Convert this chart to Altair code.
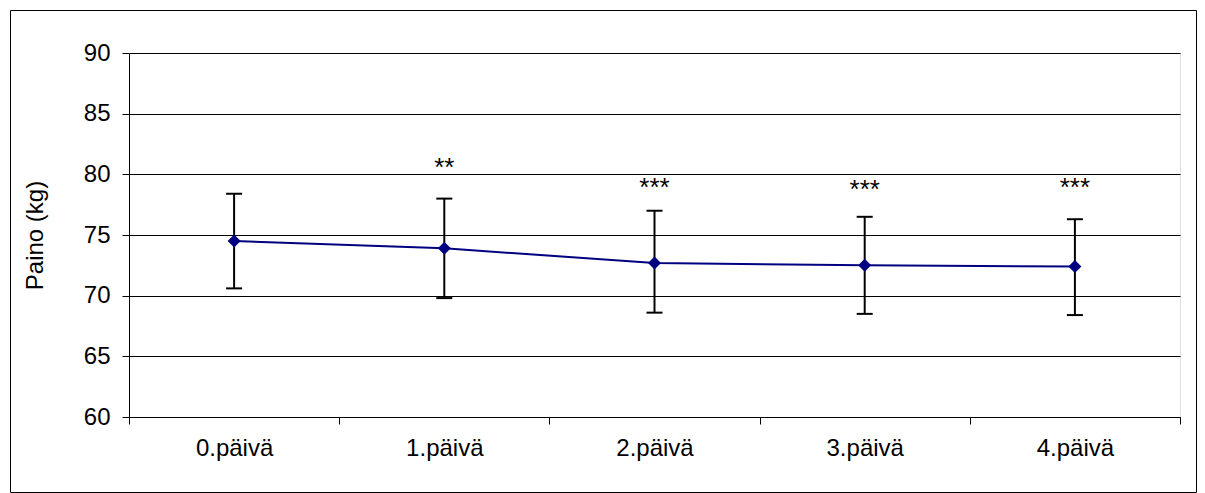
import json
import altair as alt
import pandas as pd

days = ["0.päivä", "1.päivä", "2.päivä", "3.päivä", "4.päivä"]
mean = [74.5, 73.9, 72.7, 72.5, 72.4]
upper = [78.4, 78.0, 77.0, 76.5, 76.3]
lower = [70.6, 69.8, 68.6, 68.5, 68.4]
stars = ["", "**", "***", "***", "***"]
star_y = [None, 80.5, 78.85, 78.7, 78.85]

df = pd.DataFrame({
    "idx": list(range(len(days))),
    "day": days,
    "mean": mean,
    "upper": upper,
    "lower": lower,
    "stars": stars,
    "star_y": star_y,
})

FONT = "Liberation Sans"
FS = 24

tick_vals = [i * 0.5 - 0.5 for i in range(2 * len(days) + 1)]
label_expr = "datum.value % 1 == 0 ? " + json.dumps(days) + "[datum.value] : ''"

x_enc = alt.X(
    "idx:Q",
    scale=alt.Scale(domain=[-0.5, len(days) - 0.5], nice=False, zero=False),
    axis=alt.Axis(
        values=tick_vals,
        labelExpr=label_expr,
        title=None,
        grid=False,
        tickSize=7,
        tickColor="black",
        tickOpacity={"condition": {"test": "datum.value % 1 != 0", "value": 1}, "value": 0},
        domainColor="black",
        labelFont=FONT,
        labelFontSize=FS,
        labelColor="black",
        labelPadding=12,
        labelOverlap=False,
        labelFlush=False,
    ),
)

y_scale = alt.Scale(domain=[60, 90], nice=False, zero=False)
y_axis = alt.Axis(
    values=[60, 65, 70, 75, 80, 85, 90],
    title="Paino (kg)",
    titleFont=FONT,
    titleFontSize=FS,
    titleFontWeight="normal",
    titleColor="black",
    titlePadding=36,
    grid=True,
    gridColor="black",
    gridWidth=1,
    tickSize=7,
    tickColor="black",
    domainColor="black",
    labelFont=FONT,
    labelFontSize=FS,
    labelColor="black",
    labelPadding=12,
)

base = alt.Chart(df)

line = base.mark_line(color="#000080", strokeWidth=2).encode(
    x=x_enc, y=alt.Y("mean:Q", scale=y_scale, axis=y_axis)
)
rules = base.mark_rule(color="black", strokeWidth=2).encode(
    x="idx:Q", y="lower:Q", y2="upper:Q"
)
caps_top = base.mark_tick(orient="horizontal", size=16, thickness=2, color="black", opacity=1).encode(
    x="idx:Q", y="upper:Q"
)
caps_bot = base.mark_tick(orient="horizontal", size=16, thickness=2, color="black", opacity=1).encode(
    x="idx:Q", y="lower:Q"
)
points = base.mark_point(shape="diamond", filled=True, size=169, color="#000080", opacity=1).encode(
    x="idx:Q", y="mean:Q"
)
star_text = base.mark_text(font=FONT, fontSize=26, color="black", baseline="middle", align="center").encode(
    x="idx:Q", y="star_y:Q", text="stars:N"
)

frame = alt.Chart(pd.DataFrame({"k": [0]})).mark_rect(
    fill="white", fillOpacity=0, stroke="black", strokeWidth=1
).encode(
    x=alt.value(-118.5), x2=alt.value(1067.5), y=alt.value(-42.5), y2=alt.value(439.5)
)

chart = alt.layer(line, rules, caps_top, caps_bot, points, star_text, frame).properties(
    width=1051,
    height=364,
    padding={"left": 129, "top": 53, "right": 25, "bottom": 76},
    autosize=alt.AutoSizeParams(type="none"),
).configure_view(stroke="#808080", strokeWidth=1).configure(background="white")

chart.save("out.html", embed_options={"renderer": "svg", "actions": False})
